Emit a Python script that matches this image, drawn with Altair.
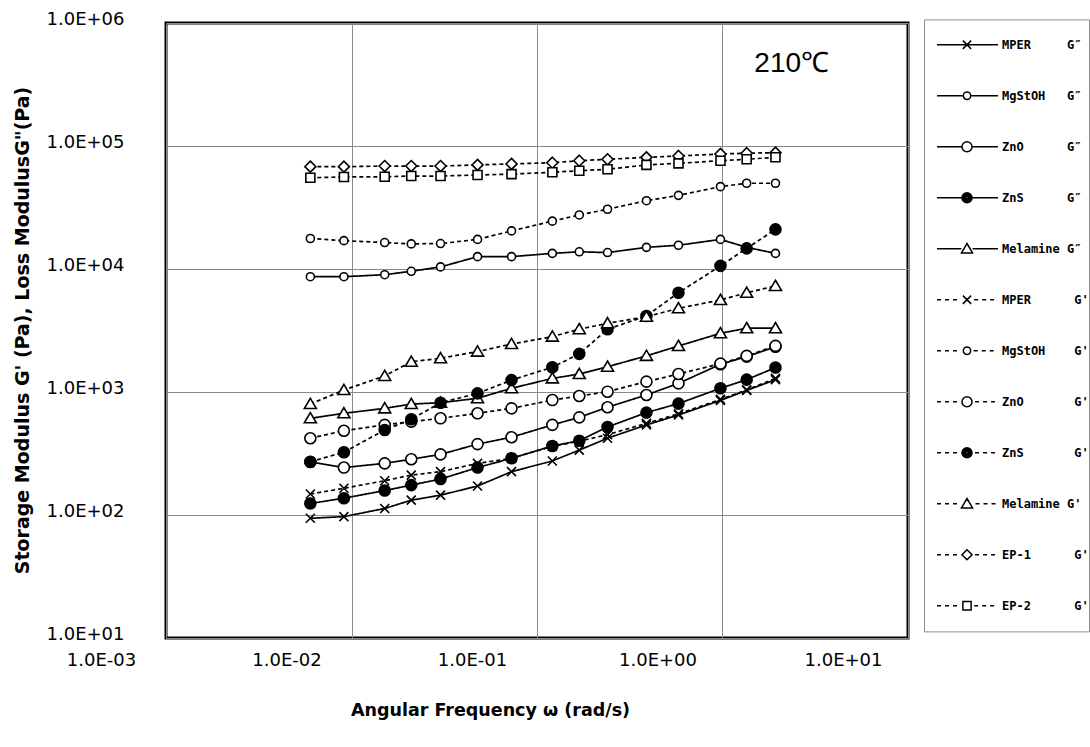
import altair as alt
import pandas as pd

NB = "\u00a0"
G2 = "G\u2033"
G1 = "G'"

# ---------------- data ----------------
freq = [0.0060, 0.0091, 0.0151, 0.0210, 0.0302, 0.0478, 0.0729, 0.121,
        0.169, 0.240, 0.389, 0.579, 0.975, 1.35, 1.93]

mper_g2 = [94, 97, 113, 132, 145, 172, 225, 275, 337, 421, 540, 650, 855, 1030, 1260]
mgstoh_g2 = [8660, 8660, 8990, 9580, 10400, 12600, 12600, 13400, 13800, 13600,
             15000, 15600, 17400, 15000, 13400]
zno_g2 = [270, 243, 263, 284, 311, 377, 429, 540, 622, 752, 946, 1175, 1680, 1940, 2330]
zns_g2 = [124, 137, 158, 175, 196, 243, 289, 364, 402, 520, 680, 805, 1072, 1260, 1580]
melamine_g2 = [611, 671, 736, 798, 818, 889, 1072, 1290, 1400, 1606, 1965, 2367, 3000, 3300, 3300]
mper_g1 = [148, 165, 190, 211, 225, 263, 289, 362, 398, 450, 556, 665, 870, 1040, 1290]
mgstoh_g1 = [17700, 17000, 16400, 16000, 16100, 17400, 20400, 24500, 27500, 30600,
             35900, 39700, 46700, 49800, 49800]
zno_g1 = [421, 484, 540, 574, 611, 671, 736, 860, 927, 1006, 1214, 1400, 1700, 1965, 2370]
zns_g1 = [271, 324, 491, 600, 818, 975, 1250, 1590, 2040, 3240, 4150, 6410, 10600, 14700, 21000]
melamine_g1 = [798, 1038, 1350, 1762, 1880, 2130, 2455, 2820, 3240, 3620, 4090, 4790, 5600, 6410, 7280]
ep1_g1 = [67900, 67900, 68700, 68700, 68700, 70200, 71500, 73100, 75900, 78000,
          80900, 83000, 86100, 87300, 88300]
ep2_g1 = [55200, 56000, 56200, 57000, 57000, 58100, 59100, 61100, 63000, 64700,
          70200, 72300, 75900, 78000, 80900]

series_labels = [
    "MPER" + NB * 5 + G2,
    "MgStOH" + NB * 3 + G2,
    "ZnO" + NB * 6 + G2,
    "ZnS" + NB * 6 + G2,
    "Melamine" + NB + G2,
    "MPER" + NB * 6 + G1,
    "MgStOH" + NB * 4 + G1,
    "ZnO" + NB * 7 + G1,
    "ZnS" + NB * 7 + G1,
    "Melamine" + NB + G1,
    "EP-1" + NB * 6 + G1,
    "EP-2" + NB * 6 + G1,
]
series_values = [mper_g2, mgstoh_g2, zno_g2, zns_g2, melamine_g2,
                 mper_g1, mgstoh_g1, zno_g1, zns_g1, melamine_g1, ep1_g1, ep2_g1]

x_tick_values = [0.001, 0.01, 0.1, 1, 10]
x_tick_labels = ["1.0E-03", "1.0E-02", "1.0E-01", "1.0E+00", "1.0E+01"]
y_tick_values = [10, 100, 1000, 10000, 100000, 1000000]
y_tick_labels = ["1.0E+01", "1.0E+02", "1.0E+03", "1.0E+04", "1.0E+05", "1.0E+06"]

ann_freq = [2.36]
ann_mod = [4.6e5]
ann_text = ["210\u2103"]

# ---------------- styles ----------------
kinds = ["x", "circle_s", "circle", "disc", "tri",
         "x", "circle_s", "circle", "disc", "tri", "diamond", "square"]
dashed = [False] * 5 + [True] * 7


def f3(v):
    return f"{v:.3f}"


def circle_path(cx, r):
    return (f"M{f3(cx - r)},0A{f3(r)},{f3(r)} 0 1,0 {f3(cx + r)},0"
            f"A{f3(r)},{f3(r)} 0 1,0 {f3(cx - r)},0Z")


def marker_path(kind, cx, scale, legend=False, fill_step=0.05):
    if kind == "x":
        r = 0.9 * scale
        return (f"M{f3(cx - r)},{f3(-r)}L{f3(cx + r)},{f3(r)}"
                f"M{f3(cx - r)},{f3(r)}L{f3(cx + r)},{f3(-r)}"), r
    if kind == "circle_s":
        r = 0.8 * scale
        return circle_path(cx, r), r
    if kind == "circle":
        r = 1.1 * scale
        return circle_path(cx, r), r
    if kind == "disc":
        r = 1.1 * scale
        if not legend:
            return circle_path(cx, r), r
        parts = []
        rr = r
        while rr > 0.01:
            parts.append(circle_path(cx, rr))
            rr -= fill_step
        return "".join(parts), r
    if kind == "tri":
        r = 1.2 * scale
        return (f"M{f3(cx)},{f3(-r * 0.95)}L{f3(cx + r)},{f3(r * 0.75)}"
                f"L{f3(cx - r)},{f3(r * 0.75)}Z"), r
    if kind == "diamond":
        r = 1.1 * scale
        return (f"M{f3(cx)},{f3(-r)}L{f3(cx + r)},0L{f3(cx)},{f3(r)}"
                f"L{f3(cx - r)},0Z"), r
    r = 0.9 * scale
    return (f"M{f3(cx - r)},{f3(-r)}H{f3(cx + r)}V{f3(r)}H{f3(cx - r)}Z"), r


def seg_path(a, b, is_dashed, dash, period):
    if b <= a:
        return ""
    if not is_dashed:
        return f"M{f3(a)},0H{f3(b)}"
    out = []
    t = a
    while t < b - 0.03:
        e = min(t + dash, b)
        out.append(f"M{f3(t)},0H{f3(e)}")
        t += period
    return "".join(out)


# plot markers (mark size 100 -> 1 unit = 5 px)
data_paths = [marker_path(k, 0, 1.0)[0] for k in kinds]
data_fills = ["black" if k == "disc" else "white" for k in kinds]

# legend symbols (symbolSize 2601 -> 1 unit = 25.5 px, symbol centre at x = 949.5)
UNIT = 25.5
L0, L1, CX = (936 - 949.5) / UNIT, (997 - 949.5) / UNIT, (966 - 949.5) / UNIT
legend_paths = []
for k, d in zip(kinds, dashed):
    mp, r = marker_path(k, CX, 4.6 / UNIT, legend=True, fill_step=1.2 / UNIT)
    gap = 3.0 / UNIT if d else 0.0
    if k == "x" and not d:
        line = seg_path(L0, L1, False, 0, 0)
    else:
        line = (seg_path(L0, CX - r - gap, d, 4.0 / UNIT, 8.0 / UNIT)
                + seg_path(CX + r + gap, L1, d, 4.0 / UNIT, 8.0 / UNIT))
    legend_paths.append(line + mp)

dash_styles = [[4, 3] if d else [1, 0] for d in dashed]

# ---------------- table ----------------
rows = []
for name, vals in zip(series_labels, series_values):
    for f, v in zip(freq, vals):
        rows.append({"series": name, "freq": f, "modulus": v})
df = pd.DataFrame(rows)
ann_df = pd.DataFrame({"freq": ann_freq, "modulus": ann_mod, "text": ann_text})

x_expr = ("[" + ",".join(f"'{t}'" for t in x_tick_labels) + "]"
          "[round(log(datum.value)/LN10)+3]")
y_expr = ("[" + ",".join(f"'{t}'" for t in y_tick_labels) + "]"
          "[round(log(datum.value)/LN10)-1]")

X_TITLE = "Angular Frequency \u03c9 (rad/s)"
Y_TITLE = "Storage Modulus G' (Pa), Loss ModulusG\"(Pa)"

x_enc = alt.X(
    "freq:Q",
    title=X_TITLE,
    scale=alt.Scale(type="log", domain=[0.001, 10]),
    axis=alt.Axis(
        values=x_tick_values, labelExpr=x_expr, grid=True, gridColor="#8a8a8a",
        gridWidth=1, ticks=False, domain=False, labelFlush=False, labelOverlap=False,
        labelOffset=-65, labelPadding=13, labelFont="DejaVu Sans",
        labelFontSize=18, labelColor="black",
        titleFont="DejaVu Sans", titleFontSize=17.5, titleFontWeight="bold",
        titleColor="black", titleX=324, titleY=72, titleAlign="center",
        titleBaseline="middle", titleAnchor="start",
    ),
)
y_enc = alt.Y(
    "modulus:Q",
    title=Y_TITLE,
    scale=alt.Scale(type="log", domain=[10, 1000000]),
    axis=alt.Axis(
        values=y_tick_values, labelExpr=y_expr, grid=True, gridColor="#8a8a8a",
        gridWidth=1, ticks=False, domain=False, labelFlush=False, labelOverlap=False,
        labelOffset=-4, labelPadding=42, labelFont="DejaVu Sans",
        labelFontSize=18, labelColor="black",
        titleFont="DejaVu Sans", titleFontSize=19, titleFontWeight="bold",
        titleColor="black", titleX=-144, titleY=307, titleAlign="center",
        titleBaseline="middle", titleAnchor="start", titleAngle=270,
    ),
)

base = alt.Chart(df)

lines = base.mark_line(color="black", strokeWidth=1.7).encode(
    x=x_enc,
    y=y_enc,
    detail="series:N",
    strokeDash=alt.StrokeDash("series:N",
                              scale=alt.Scale(domain=series_labels, range=dash_styles),
                              legend=None),
    order="freq:Q",
)

points = base.mark_point(filled=True, size=100, stroke="black", strokeWidth=1.6,
                         opacity=1).encode(
    x=x_enc,
    y=y_enc,
    shape=alt.Shape("series:N",
                    scale=alt.Scale(domain=series_labels, range=data_paths),
                    legend=None),
    fill=alt.Fill("series:N",
                  scale=alt.Scale(domain=series_labels, range=data_fills),
                  legend=None),
)

# legend-only layer: no marks survive the filter, the legend is built from the scale
legend_layer = base.transform_filter("false").mark_point(
    filled=False, color="black", stroke="black", strokeWidth=1.5, size=100, opacity=1
).encode(
    x=x_enc,
    y=y_enc,
    shape=alt.Shape(
        "series:N",
        scale=alt.Scale(domain=series_labels, range=legend_paths),
        legend=alt.Legend(
            title=None, orient="none", legendX=758, legendY=-3.6, direction="vertical",
            padding=0, strokeColor="#8c8c8c", fillColor="white", cornerRadius=0,
            symbolSize=2601, symbolStrokeWidth=1.5, symbolStrokeColor="black",
            symbolOpacity=1, rowPadding=0, clipHeight=50.7,
            labelOffset=25, labelFont="DejaVu Sans Mono", labelFontSize=12,
            labelFontWeight="bold", labelColor="black", labelBaseline="middle",
            labelLimit=300,
        ),
    ),
)

annotation = alt.Chart(ann_df).mark_text(
    font="Liberation Sans", fontSize=28, color="black", align="center", baseline="middle"
).encode(x=x_enc, y=y_enc, text="text:N")

chart = (
    alt.layer(lines, points, legend_layer, annotation)
    .resolve_scale(shape="independent")
    .properties(
        width=742,
        height=615,
        autosize=alt.AutoSizeParams(type="none"),
        padding={"left": 166, "top": 23, "right": 182, "bottom": 109},
        background="white",
    )
    .configure_view(stroke="black", strokeWidth=3)
)

chart.save("out.html", embed_options={"renderer": "svg", "actions": False})
